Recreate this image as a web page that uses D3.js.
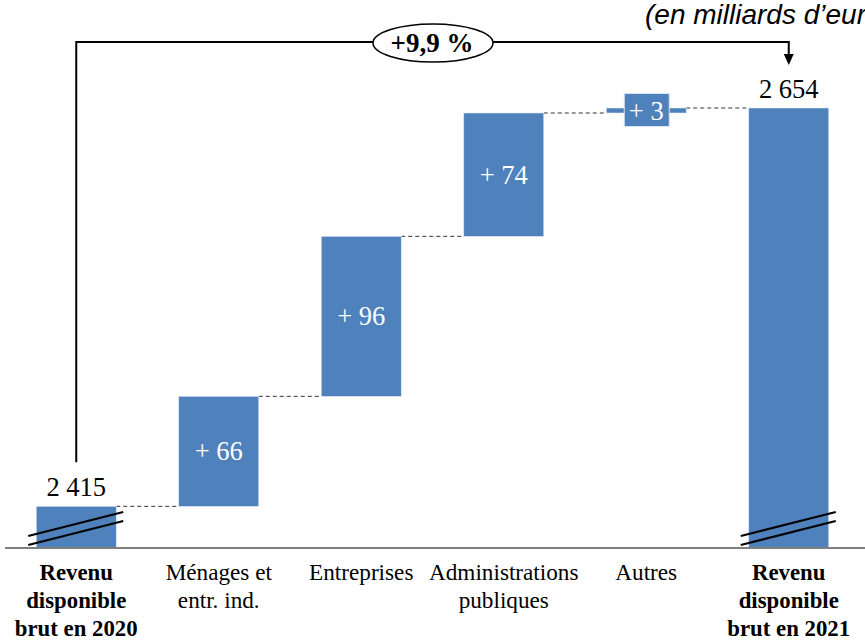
<!DOCTYPE html>
<html>
<head>
<meta charset="utf-8">
<script src="https://cdn.jsdelivr.net/npm/d3@7"></script>
<style>
  body { margin: 0; background: #fff; overflow: hidden; }
  svg { display: block; }
</style>
</head>
<body>
<script>
/* data */
var categories = ["Revenu disponible brut en 2020", "Ménages et entr. ind.", "Entreprises",
                  "Administrations publiques", "Autres", "Revenu disponible brut en 2021"];
var catLines = [["Revenu", "disponible", "brut en 2020"], ["Ménages et", "entr. ind."], ["Entreprises"],
                ["Administrations", "publiques"], ["Autres"], ["Revenu", "disponible", "brut en 2021"]];
var values = [2415, 66, 96, 74, 3, 2654];
var kinds = ["total", "delta", "delta", "delta", "delta", "total"];
var valueLabels = ["2 415", "+ 66", "+ 96", "+ 74", "+ 3", "2 654"];
var growthLabel = "+9,9 %";
var unitLabel = "(en milliards d\u2019euros)";

/* chart */
var width = 865, height = 643;
var blue = "#4F81BD";
var serif = "'Liberation Serif', 'Times New Roman', serif";

var svg = d3.select("body").append("svg")
    .attr("width", width)
    .attr("height", height);

var x = d3.scalePoint()
    .domain(categories)
    .range([5, 860])
    .padding(0.5);

var y = d3.scaleLinear()
    .domain([2390, 2654])
    .range([548, 108]);

var barW = 80;

// running totals
var bars = [];
var run = 0;
values.forEach(function(v, i) {
    var lo, hi;
    if (kinds[i] === "total") { lo = y.domain()[0]; hi = v; run = v; }
    else { lo = run; hi = run + v; run = hi; }
    bars.push({ cat: categories[i], lo: lo, hi: hi, kind: kinds[i], label: valueLabels[i], i: i });
});

// connectors
for (var i = 0; i < bars.length - 1; i++) {
    svg.append("line")
        .attr("x1", x(bars[i].cat) + barW / 2)
        .attr("x2", x(bars[i + 1].cat) - barW / 2)
        .attr("y1", y(bars[i].hi))
        .attr("y2", y(bars[i].hi))
        .attr("stroke", "#333")
        .attr("stroke-width", 1)
        .attr("stroke-dasharray", "4,3");
}

// bars
svg.selectAll("rect.bar")
    .data(bars)
    .enter()
    .append("rect")
    .attr("class", "bar")
    .attr("x", function(d) { return x(d.cat) - barW / 2; })
    .attr("y", function(d) { return y(d.hi); })
    .attr("width", barW)
    .attr("height", function(d) { return Math.max(y(d.lo) - y(d.hi), 4); })
    .attr("fill", blue)
    .attr("stroke", "#dbe5f1")
    .attr("stroke-width", 0.6);

// axis line
svg.append("line")
    .attr("x1", 5).attr("x2", width)
    .attr("y1", y.range()[0]).attr("y2", y.range()[0])
    .attr("stroke", "#808080")
    .attr("stroke-width", 2);

// break marks on totals
bars.filter(function(d) { return d.kind === "total"; }).forEach(function(d) {
    var cx = x(d.cat);
    [0, 9].forEach(function(off) {
        svg.append("line")
            .attr("x1", cx - 48).attr("y1", 536 + off)
            .attr("x2", cx + 47).attr("y2", 512 + off)
            .attr("stroke", "#000")
            .attr("stroke-width", 2);
    });
});

// value labels
var valSize = 26.5;
bars.forEach(function(d) {
    var cx = x(d.cat);
    if (d.kind === "total") {
        svg.append("text")
            .attr("x", cx).attr("y", y(d.hi) - 10)
            .attr("text-anchor", "middle")
            .attr("font-family", serif)
            .attr("font-size", valSize)
            .attr("fill", "#000")
            .text(d.label);
    } else if (d.hi - d.lo < 10) {
        // small step: label in a blue box
        var cy = (y(d.hi) + y(d.lo)) / 2;
        svg.append("rect")
            .attr("x", cx - 22).attr("y", cy - 17)
            .attr("width", 45).attr("height", 33)
            .attr("fill", blue)
            .attr("stroke", "#dbe5f1")
            .attr("stroke-width", 1);
        svg.append("text")
            .attr("x", cx).attr("y", cy + 9)
            .attr("text-anchor", "middle")
            .attr("font-family", serif)
            .attr("font-size", valSize)
            .attr("fill", "#fff")
            .text(d.label);
    } else {
        svg.append("text")
            .attr("x", cx).attr("y", (y(d.hi) + y(d.lo)) / 2 + 9)
            .attr("text-anchor", "middle")
            .attr("font-family", serif)
            .attr("font-size", valSize)
            .attr("fill", "#fff")
            .text(d.label);
    }
});

// category labels
catLines.forEach(function(lines, i) {
    var bold = kinds[i] === "total";
    var t = svg.append("text")
        .attr("text-anchor", "middle")
        .attr("font-family", serif)
        .attr("font-size", bold ? 22.8 : 23.2)
        .attr("font-weight", bold ? "bold" : "normal")
        .attr("fill", "#000");
    lines.forEach(function(l, j) {
        t.append("tspan")
            .attr("x", x(categories[i]))
            .attr("y", 580 + j * 28)
            .text(l);
    });
});

// growth bracket
var xa = x(categories[0]), xb = x(categories[categories.length - 1]);
var topY = 42;
svg.append("path")
    .attr("d", "M" + xa + "," + (y(values[0]) - 44) + "V" + topY + "H" + xb + "V" + 56)
    .attr("fill", "none")
    .attr("stroke", "#000")
    .attr("stroke-width", 2);
svg.append("path")
    .attr("d", "M" + (xb - 5) + "," + 54 + "L" + (xb + 5) + "," + 54 + "L" + xb + "," + 65 + "Z")
    .attr("fill", "#000");

svg.append("ellipse")
    .attr("cx", 433).attr("cy", topY + 1)
    .attr("rx", 60).attr("ry", 19)
    .attr("fill", "#fff")
    .attr("stroke", "#000")
    .attr("stroke-width", 1.5);
svg.append("text")
    .attr("x", 432).attr("y", topY + 10)
    .attr("text-anchor", "middle")
    .attr("font-family", serif)
    .attr("font-weight", "bold")
    .attr("font-size", 27)
    .text(growthLabel);

// unit label
svg.append("text")
    .attr("x", 645).attr("y", 24)
    .attr("font-family", "'Liberation Sans', Arial, sans-serif")
    .attr("font-style", "italic")
    .attr("font-size", 28)
    .text(unitLabel);
</script>
</body>
</html>
